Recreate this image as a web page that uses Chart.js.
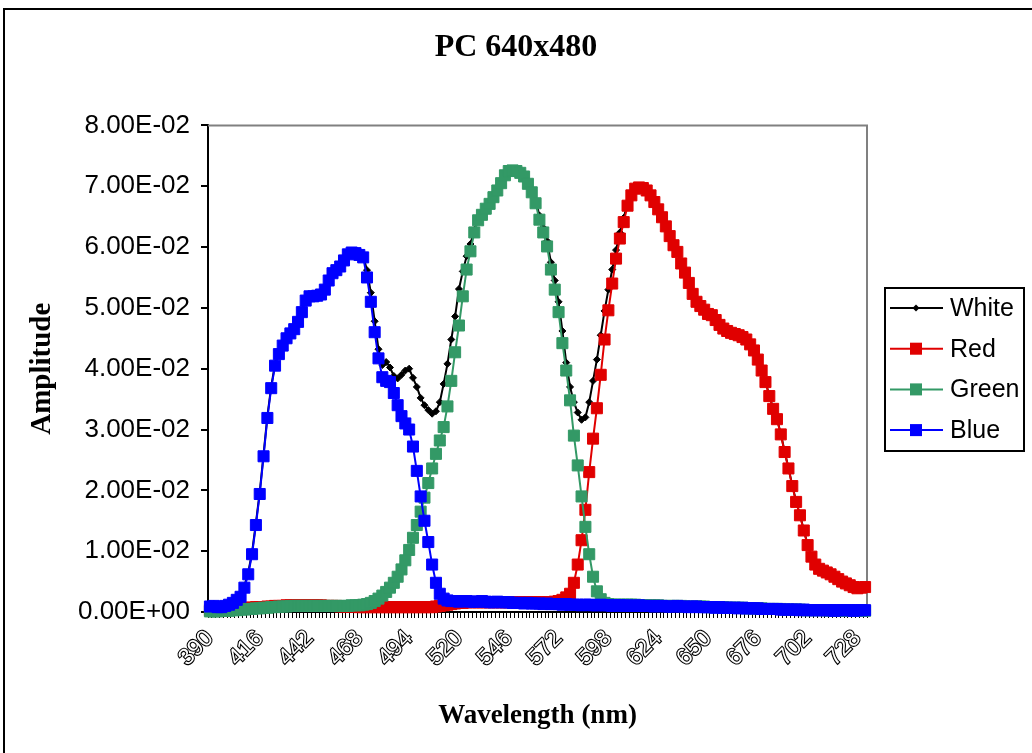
<!DOCTYPE html>
<html>
<head>
<meta charset="utf-8">
<title>PC 640x480</title>
<script src="https://cdn.jsdelivr.net/npm/chart.js@4.4.0/dist/chart.umd.min.js"></script>
<style>
  html, body { margin: 0; padding: 0; background: #fff; }
  #wrap { width: 1032px; height: 753px; position: relative; }
</style>
</head>
<body>
<div id="wrap"><canvas id="spectrum"></canvas></div>
<script>
// --- DATA ---

const wavelengths = [
  390,392,394,396,398,400,402,404,406,408,
  410,412,414,416,418,420,422,424,426,428,
  430,432,434,436,438,440,442,444,446,448,
  450,452,454,456,458,460,462,464,466,468,
  470,472,474,476,478,480,482,484,486,488,
  490,492,494,496,498,500,502,504,506,508,
  510,512,514,516,518,520,522,524,526,528,
  530,532,534,536,538,540,542,544,546,548,
  550,552,554,556,558,560,562,564,566,568,
  570,572,574,576,578,580,582,584,586,588,
  590,592,594,596,598,600,602,604,606,608,
  610,612,614,616,618,620,622,624,626,628,
  630,632,634,636,638,640,642,644,646,648,
  650,652,654,656,658,660,662,664,666,668,
  670,672,674,676,678,680,682,684,686,688,
  690,692,694,696,698,700,702,704,706,708,
  710,712,714,716,718,720,722,724,726,728,
  730,732
];

const whiteAmp = [
  .0012,.0013,.0011,.0011,.0013,.0015,.0018,.0023,.0028,.0043,
  .0065,.0098,.0146,.0197,.0259,.0322,.0371,.0408,.0427,.0441,
  .0453,.0461,.0468,.0480,.0496,.0515,.0522,.0522,.0523,.0525,
  .0533,.0548,.0560,.0565,.0571,.0581,.0591,.0594,.0593,.0590,
  .0586,.0562,.0525,.0478,.0432,.0406,.0411,.0402,.0388,.0384,
  .0390,.0397,.0400,.0385,.0370,.0352,.0340,.0332,.0326,.0330,
  .0345,.0375,.0408,.0448,.0486,.0531,.0560,.0585,.0605,.0628,
  .0646,.0655,.0664,.0672,.0683,.0694,.0706,.0719,.0726,.0727,
  .0726,.0723,.0718,.0707,.0694,.0677,.0652,.0632,.0610,.0575,
  .0545,.0510,.0462,.0410,.0370,.0345,.0328,.0316,.0320,.0345,
  .0380,.0415,.0455,.0495,.0530,.0563,.0595,.0624,.0648,.0672,
  .0688,.0697,.0699,.0698,.0694,.0686,.0675,.0663,.0650,.0635,
  .0619,.0604,.0593,.0574,.0559,.0542,.0524,.0511,.0504,.0498,
  .0491,.0489,.0481,.0473,.0467,.0463,.0460,.0458,.0456,.0453,
  .0449,.0441,.0431,.0416,.0398,.0379,.0356,.0335,.0318,.0293,
  .0264,.0237,.0208,.0182,.0160,.0135,.0111,.0092,.0079,.0072,
  .0069,.0066,.0063,.0059,.0055,.0051,.0048,.0045,.0042,.0040,
  .0041,.0042
];

const redAmp = [
  .0003,.0004,.0004,.0005,.0005,.0005,.0006,.0006,.0006,.0007,
  .0007,.0007,.0008,.0008,.0008,.0009,.0009,.0010,.0010,.0010,
  .0011,.0011,.0011,.0011,.0011,.0011,.0011,.0011,.0011,.0011,
  .0010,.0010,.0010,.0010,.0009,.0009,.0009,.0009,.0009,.0008,
  .0008,.0008,.0008,.0008,.0008,.0008,.0008,.0008,.0008,.0008,
  .0008,.0008,.0008,.0008,.0008,.0008,.0008,.0008,.0008,.0009,
  .0010,.0011,.0012,.0013,.0014,.0015,.0015,.0016,.0016,.0016,
  .0016,.0016,.0016,.0016,.0016,.0016,.0016,.0016,.0016,.0016,
  .0016,.0016,.0016,.0016,.0016,.0016,.0016,.0016,.0016,.0016,
  .0017,.0018,.0020,.0024,.0030,.0048,.0078,.0118,.0168,.0230,
  .0285,.0335,.0390,.0448,.0496,.0540,.0581,.0614,.0641,.0668,
  .0685,.0696,.0698,.0697,.0693,.0685,.0674,.0662,.0649,.0634,
  .0618,.0603,.0592,.0573,.0558,.0541,.0523,.0510,.0503,.0497,
  .0490,.0488,.0480,.0472,.0466,.0462,.0459,.0457,.0455,.0452,
  .0448,.0440,.0430,.0415,.0397,.0378,.0355,.0334,.0317,.0292,
  .0263,.0236,.0207,.0181,.0159,.0134,.0110,.0091,.0078,.0071,
  .0068,.0065,.0062,.0058,.0054,.0050,.0047,.0044,.0041,.0039,
  .0040,.0041
];

const greenAmp = [
  .0001,.0001,.0001,.0002,.0002,.0002,.0003,.0003,.0004,.0004,
  .0005,.0005,.0006,.0006,.0007,.0007,.0008,.0008,.0009,.0009,
  .0009,.0010,.0010,.0010,.0010,.0010,.0010,.0010,.0010,.0010,
  .0010,.0010,.0010,.0010,.0010,.0010,.0010,.0011,.0011,.0011,
  .0012,.0013,.0015,.0018,.0022,.0027,.0033,.0040,.0048,.0058,
  .0070,.0085,.0102,.0122,.0143,.0165,.0188,.0212,.0236,.0260,
  .0282,.0304,.0338,.0380,.0427,.0471,.0519,.0563,.0593,.0624,
  .0644,.0653,.0663,.0671,.0682,.0693,.0705,.0718,.0725,.0726,
  .0725,.0722,.0716,.0704,.0690,.0672,.0645,.0624,.0601,.0563,
  .0530,.0493,.0442,.0397,.0348,.0290,.0241,.0190,.0140,.0095,
  .0058,.0034,.0021,.0015,.0013,.0012,.0012,.0012,.0012,.0012,
  .0012,.0012,.0011,.0011,.0011,.0011,.0011,.0011,.0010,.0010,
  .0010,.0010,.0010,.0010,.0009,.0009,.0009,.0009,.0009,.0009,
  .0008,.0008,.0008,.0008,.0008,.0007,.0007,.0007,.0007,.0007,
  .0006,.0006,.0006,.0006,.0006,.0005,.0005,.0005,.0005,.0005,
  .0004,.0004,.0004,.0004,.0004,.0003,.0003,.0003,.0003,.0003,
  .0003,.0003,.0002,.0002,.0002,.0002,.0002,.0002,.0002,.0002,
  .0002,.0002
];

const blueAmp = [
  .0009,.0010,.0008,.0008,.0010,.0012,.0015,.0020,.0025,.0040,
  .0062,.0095,.0143,.0194,.0256,.0319,.0368,.0405,.0424,.0438,
  .0450,.0458,.0465,.0477,.0493,.0512,.0519,.0519,.0520,.0522,
  .0530,.0545,.0557,.0562,.0568,.0578,.0588,.0591,.0590,.0587,
  .0583,.0550,.0510,.0460,.0417,.0386,.0380,.0378,.0360,.0340,
  .0322,.0310,.0300,.0272,.0232,.0190,.0150,.0115,.0078,.0048,
  .0030,.0022,.0019,.0018,.0018,.0017,.0018,.0018,.0017,.0017,
  .0017,.0018,.0017,.0016,.0016,.0017,.0016,.0016,.0016,.0015,
  .0015,.0015,.0014,.0015,.0014,.0014,.0014,.0013,.0014,.0013,
  .0013,.0013,.0012,.0013,.0012,.0012,.0012,.0011,.0012,.0012,
  .0011,.0011,.0012,.0011,.0011,.0010,.0011,.0011,.0010,.0011,
  .0010,.0010,.0011,.0010,.0010,.0010,.0009,.0010,.0010,.0009,
  .0009,.0009,.0010,.0009,.0009,.0008,.0009,.0009,.0008,.0008,
  .0008,.0008,.0007,.0008,.0007,.0007,.0007,.0007,.0006,.0007,
  .0006,.0006,.0006,.0006,.0005,.0005,.0005,.0005,.0005,.0004,
  .0004,.0004,.0004,.0004,.0003,.0004,.0003,.0003,.0003,.0003,
  .0003,.0003,.0003,.0002,.0003,.0003,.0003,.0003,.0002,.0003,
  .0003,.0003
];

// --- LAYOUT (plot box edges in px) ---
const PLOT_LEFT = 208, PLOT_RIGHT = 867, PLOT_BOTTOM = 612;
const CANVAS_W = 1032, CANVAS_H = 753;

// Excel-style scientific labels: 8.00E-02, 0.00E+00
function sciLabel(v) {
  const parts = Number(v).toExponential(2).split('e');
  const n = parseInt(parts[1], 10);
  return parts[0] + 'E' + (n < 0 ? '-' : '+') + String(Math.abs(n)).padStart(2, '0');
}

function series(label, data, color, style, radius, order) {
  return {
    label, data, order,
    borderColor: color, backgroundColor: color,
    pointBackgroundColor: color, pointBorderColor: color,
    pointStyle: style, pointRadius: radius, pointBorderWidth: 1,
    borderWidth: 2, tension: 0, clip: false
  };
}

// black outer frame + grey top/right edge of the plot box
const framePlugin = {
  id: 'frame',
  beforeDraw(chart) {
    const { ctx } = chart;
    ctx.save();
    ctx.strokeStyle = '#000';
    ctx.lineWidth = 2;
    ctx.strokeRect(4, 9, CANVAS_W + 20, CANVAS_H + 20);
    ctx.restore();
  },
  beforeDatasetsDraw(chart) {
    const { ctx, chartArea: a } = chart;
    ctx.save();
    ctx.strokeStyle = '#808080';
    ctx.lineWidth = 2;
    ctx.beginPath();
    ctx.moveTo(a.left, a.top);
    ctx.lineTo(a.right, a.top);
    ctx.lineTo(a.right, a.bottom);
    ctx.stroke();
    ctx.restore();
  }
};

// boxed legend on the right, line + marker + name
const legendPlugin = {
  id: 'boxLegend',
  afterDraw(chart) {
    const { ctx } = chart;
    const box = { x: 885, y: 288, w: 139, h: 163 };
    ctx.save();
    ctx.fillStyle = '#fff';
    ctx.fillRect(box.x, box.y, box.w, box.h);
    ctx.strokeStyle = '#000';
    ctx.lineWidth = 2;
    ctx.strokeRect(box.x, box.y, box.w, box.h);
    ctx.font = '25px "Liberation Sans", Arial, sans-serif';
    ctx.textBaseline = 'middle';
    chart.data.datasets.forEach((ds, i) => {
      const y = 308 + i * 40.7;
      ctx.strokeStyle = ds.borderColor;
      ctx.lineWidth = ds.borderWidth;
      ctx.beginPath();
      ctx.moveTo(890, y);
      ctx.lineTo(943, y);
      ctx.stroke();
      ctx.fillStyle = ds.pointBackgroundColor;
      const r = ds.pointRadius;
      ctx.beginPath();
      if (ds.pointStyle === 'rectRot') {
        ctx.moveTo(916, y - r); ctx.lineTo(916 + r, y);
        ctx.lineTo(916, y + r); ctx.lineTo(916 - r, y);
      } else {
        const s = r * Math.SQRT1_2 + 0.5;
        ctx.rect(916 - s, y - s, 2 * s, 2 * s);
      }
      ctx.closePath();
      ctx.fill();
      ctx.fillStyle = '#000';
      ctx.fillText(ds.label, 950, y + 1);
    });
    ctx.restore();
  }
};

const ctx = document.getElementById('spectrum').getContext('2d');
const spectrumChart = new Chart(ctx, {
  type: 'line',
  data: {
    labels: wavelengths,
    datasets: [
      series('White', whiteAmp, '#000000', 'rectRot', 3.5, 3),
      series('Red', redAmp, '#e00000', 'rect', 7.8, 2),
      series('Green', greenAmp, '#339966', 'rect', 7.8, 1),
      series('Blue', blueAmp, '#0000ff', 'rect', 7.8, 0)
    ]
  },
  options: {
    responsive: true,
    maintainAspectRatio: false,
    animation: false,
    events: [],
    layout: { padding: 0 },
    plugins: {
      legend: { display: false },
      tooltip: { enabled: false },
      title: {
        display: true,
        text: 'PC 640x480',
        color: '#000',
        font: { family: '"Liberation Serif", "Times New Roman", serif', size: 32, weight: 'bold' },
        padding: { top: 29, bottom: 58 }
      }
    },
    scales: {
      x: {
        type: 'category',
        offset: true,
        grid: { display: true, offset: true, drawOnChartArea: false, drawTicks: true, tickLength: 6, color: '#000', lineWidth: 1 },
        border: { display: true, color: '#000', width: 2 },
        ticks: {
          autoSkip: false,
          maxRotation: 45,
          minRotation: 45,
          padding: 7,
          color: '#ffffff',
          textStrokeColor: '#000000',
          textStrokeWidth: 2.2,
          font: { family: '"Liberation Sans", Arial, sans-serif', size: 23 },
          callback: (val, idx) => (idx % 13 === 0 ? String(wavelengths[idx]) : '')
        },
        title: {
          display: true,
          text: 'Wavelength (nm)',
          color: '#000',
          font: { family: '"Liberation Serif", "Times New Roman", serif', size: 27, weight: 'bold' },
          padding: { top: 0, bottom: 21 }
        },
        afterFit: (scale) => { scale.height = CANVAS_H - PLOT_BOTTOM; }
      },
      y: {
        position: 'left',
        min: 0,
        max: 0.08,
        grid: { display: true, drawOnChartArea: false, drawTicks: true, tickLength: 7, color: '#000', lineWidth: 2 },
        border: { display: true, color: '#000', width: 2 },
        ticks: {
          stepSize: 0.01,
          padding: 11,
          color: '#000',
          font: { family: '"Liberation Sans", Arial, sans-serif', size: 26 },
          callback: (v) => sciLabel(v)
        },
        title: {
          display: true,
          text: 'Amplitude',
          color: '#000',
          font: { family: '"Liberation Serif", "Times New Roman", serif', size: 29, weight: 'bold' },
          padding: { top: 25, bottom: 0 }
        },
        afterFit: (scale) => { scale.width = PLOT_LEFT; }
      },
      // empty right-hand axis that only reserves room for the legend box
      yRoom: {
        position: 'right',
        display: true,
        grid: { display: false },
        border: { display: false },
        ticks: { display: false },
        afterFit: (scale) => { scale.width = CANVAS_W - PLOT_RIGHT; }
      }
    }
  },
  plugins: [framePlugin, legendPlugin]
});
</script>
</body>
</html>
